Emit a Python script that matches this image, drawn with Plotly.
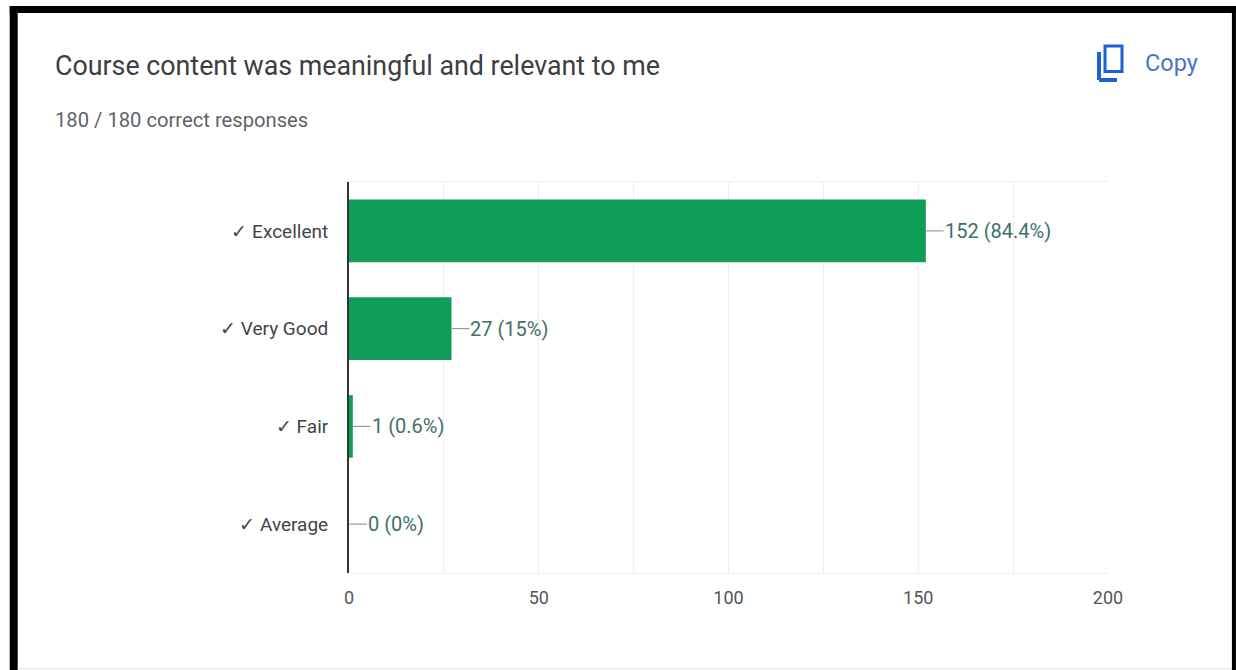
import plotly.graph_objects as go

# Survey results
categories = ["✓ Excellent", "✓ Very Good", "✓ Fair", "✓ Average"]
responses = [152, 27, 1, 0]
percent_labels = ["84.4%", "15%", "0.6%", "0%"]
x_tick_values = [0, 50, 100, 150, 200]

question = "Course content was meaningful and relevant to me"
subtitle = "180 / 180 correct responses"
copy_label = "Copy"

W, H = 1236, 670
PLOT_L, PLOT_R, PLOT_T, PLOT_B = 348.5, 1108, 182, 573
LEADER = 4.7  # leader line length in axis units

FONT = "Roboto, Arial, sans-serif"
BAR = "#0f9d58"
BLUE = "#1a62d6"


def px(x):
    return (x - PLOT_L) / (PLOT_R - PLOT_L)


def py(y):
    return (PLOT_B - y) / (PLOT_B - PLOT_T)


def page_rect(x0, y0, x1, y1, color):
    return dict(type="rect", xref="paper", yref="paper", x0=px(x0), x1=px(x1),
                y0=py(y0), y1=py(y1), fillcolor=color, line_width=0, layer="above")


def page_path(points, radius_points, color, width):
    # Polyline in page pixels with quadratic corners at the listed control points
    d = f"M {px(points[0][0])} {py(points[0][1])}"
    for (cx, cy), (ex, ey) in zip(radius_points, points[1:]):
        d += f" Q {px(cx)} {py(cy)} {px(ex)} {py(ey)}"
    return dict(type="path", xref="paper", yref="paper", path=d,
                line=dict(color=color, width=width), layer="above")


def page_text(x, y, text, size, color, anchor="left"):
    return dict(xref="paper", yref="paper", x=px(x), y=py(y), text=text, showarrow=False,
                xanchor=anchor, yanchor="middle", align=anchor,
                font=dict(family=FONT, size=size, color=color))


fig = go.Figure()

fig.add_trace(go.Bar(
    y=categories, x=responses, orientation="h",
    marker=dict(color=BAR, line_width=0), hoverinfo="skip",
))

# Leader lines run from each bar end towards its value label
fig.add_trace(go.Scatter(
    y=categories, x=[v + LEADER for v in responses],
    mode="markers", marker=dict(size=1, opacity=0),
    error_x=dict(type="data", symmetric=False, array=[0] * 4, arrayminus=[LEADER] * 4,
                 color="#8a8a8a", thickness=1, width=0),
    hoverinfo="skip", cliponaxis=False,
))

value_labels = [
    dict(xref="x", yref="y", x=v + LEADER, y=c, text=f"{v} ({p})", showarrow=False,
         xanchor="left", yanchor="middle", xshift=-1,
         font=dict(family=FONT, size=20, color="#3f6f6a"))
    for c, v, p in zip(categories, responses, percent_labels)
]

shapes = [
    # Black frame round the card
    page_rect(9, 6, 1236, 13, "#000000"),
    page_rect(9, 6, 17, 670, "#000000"),
    page_rect(1232, 6, 1236, 670, "#000000"),
    page_rect(17, 668, 1232, 669, "#e2e2e2"),
    # Copy icon: rounded page with an L-shaped page behind it
    dict(type="rect", xref="paper", yref="paper", x0=px(1105), x1=px(1122), y0=py(46), y1=py(71.5),
         line=dict(color=BLUE, width=3), fillcolor="rgba(0,0,0,0)", layer="above"),
    page_rect(1097, 52, 1101, 80, BLUE),
    page_rect(1099, 78, 1117, 82, BLUE),
]

annotations = value_labels + [
    page_text(52, 66, question, 26.8, "#3c4043"),
    page_text(52, 120, subtitle, 20.2, "#5f6368"),
    page_text(1143, 63, copy_label, 23.5, "#4a74c9"),
]

fig.update_layout(
    width=W, height=H,
    margin=dict(l=PLOT_L, r=W - PLOT_R, t=PLOT_T, b=H - PLOT_B, autoexpand=False),
    paper_bgcolor="white", plot_bgcolor="white",
    showlegend=False, bargap=0.36,
    shapes=shapes, annotations=annotations,
    font=dict(family=FONT),
    xaxis=dict(
        range=[0, 200], tickmode="array", tickvals=x_tick_values,
        showgrid=True, gridcolor="#eeeeee", gridwidth=1,
        minor=dict(dtick=25, showgrid=True, gridcolor="#eeeeee", gridwidth=1),
        showline=True, linecolor="#eeeeee", mirror=True, zeroline=False,
        ticks="", ticklabelstandoff=8,
        tickfont=dict(family=FONT, size=18, color="#555555"),
    ),
    yaxis=dict(
        autorange="reversed", showgrid=False, zeroline=False,
        showline=True, linecolor="#333333", linewidth=2,
        ticks="", ticklabelstandoff=15,
        tickfont=dict(family=FONT, size=19, color="#444444"),
    ),
)

fig.write_html("out.html", config=dict(displayModeBar=False))
